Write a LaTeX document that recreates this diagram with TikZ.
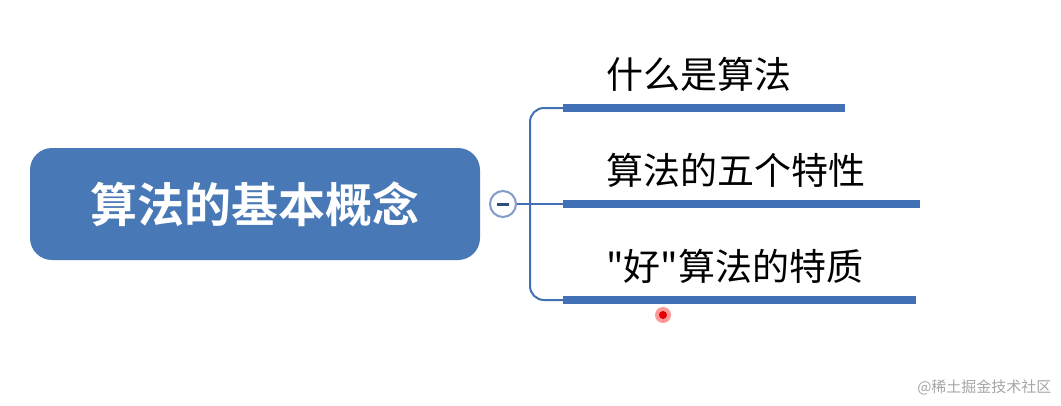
\documentclass[tikz,border=0pt]{standalone}
\usepackage{fontspec}
\newfontfamily\cjk{Noto Sans CJK SC}
\newfontfamily\cjkb{Noto Sans CJK SC Bold}
\definecolor{mainblue}{RGB}{72,120,182}
\definecolor{barblue}{RGB}{66,112,180}
\definecolor{linegray}{RGB}{130,155,200}
\tikzset{
  bar/.style={draw=barblue,line width=8pt},
  conn/.style={draw=barblue,line width=2pt},
  branchtext/.style={anchor=south west,inner sep=0pt,font=\cjk\fontsize{37}{37}\selectfont,text=black}
}
\begin{document}
\begin{tikzpicture}[x=1pt,y=-1pt]
\useasboundingbox (0,0) rectangle (1061,405);
\fill[white] (0,0) rectangle (1061,405);
\node[fill=mainblue,rounded corners=22pt,minimum width=450pt,minimum height=112pt,text=white,font=\cjkb\fontsize{47}{47}\selectfont] (root) at (255,204) {算法的基本概念};
\node[circle,draw=linegray,line width=2pt,fill=white,minimum size=26pt,inner sep=0pt] (col) at (503,204) {};
\draw[line width=3pt,color=barblue!70!black] ([xshift=-6pt]col.center) -- ([xshift=6pt]col.center);
\coordinate (b1s) at (563,108); \coordinate (b1e) at (845,108);
\coordinate (b2s) at (563,204); \coordinate (b2e) at (920,204);
\coordinate (b3s) at (563,300); \coordinate (b3e) at (916,300);
\draw[bar] (b1s) -- (b1e);
\draw[bar] (b2s) -- (b2e);
\draw[bar] (b3s) -- (b3e);
\draw[conn] (col.east) -- (b2s);
\draw[conn,rounded corners=14pt] (b1s) -- (530,108) -- (530,300) -- (b3s);
\node[branchtext] (t1) at (606,92) {什么是算法};
\node[branchtext] (t2) at (606,188) {算法的五个特性};
\node[branchtext] (t3) at (606,284) {"好"算法的特质};
\fill[red!40] (663,315) circle (8pt);
\fill[red!90!black] (663,315) circle (4pt);
\node[anchor=east,font=\cjk\fontsize{15}{15}\selectfont,text=gray!70] (wm) at (1055,387) {@稀土掘金技术社区};
\end{tikzpicture}
\end{document}
